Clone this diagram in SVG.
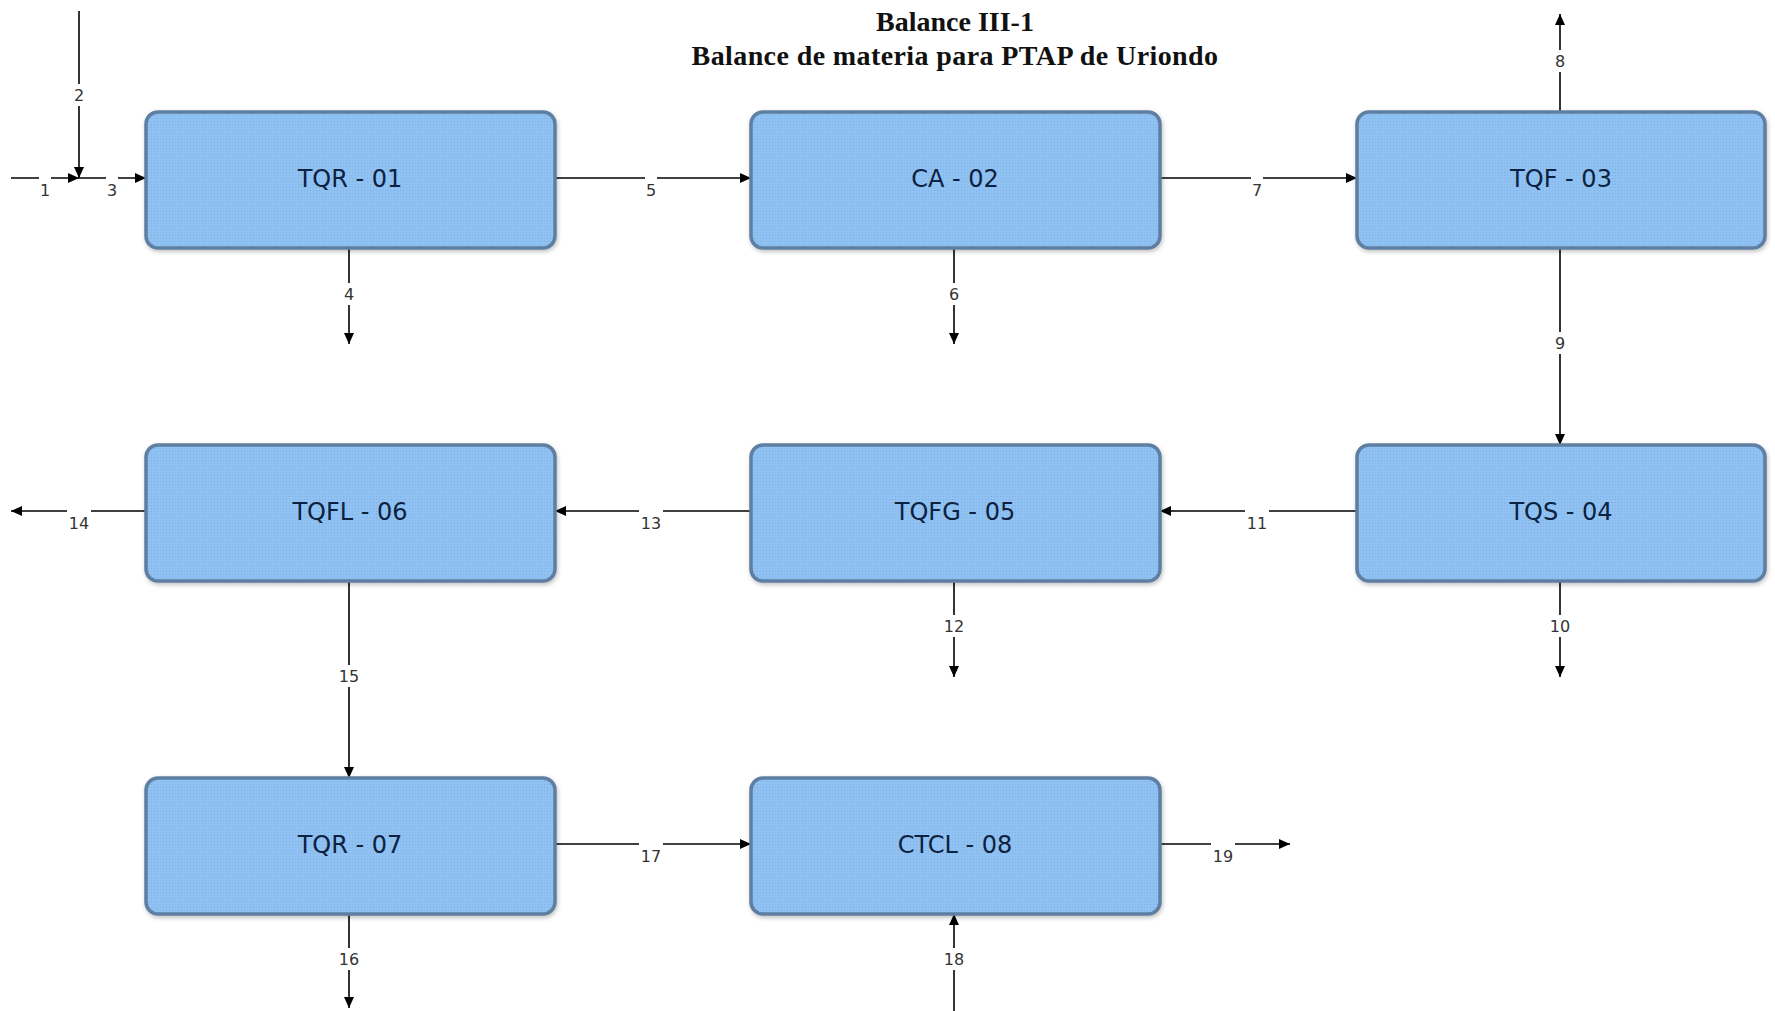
<svg xmlns="http://www.w3.org/2000/svg" width="1775" height="1011" viewBox="0 0 1775 1011">
<defs>
<pattern id="dots" width="3" height="3" patternUnits="userSpaceOnUse">
<rect width="3" height="3" fill="#8fc1f2"/>
<rect x="1" y="1" width="1" height="1" fill="#7fb0e2"/>
</pattern>
<marker id="arr" markerWidth="12" markerHeight="10" refX="11" refY="5" orient="auto" markerUnits="userSpaceOnUse">
<path d="M0,0 L11,5 L0,10 z" fill="#000"/>
</marker>
<filter id="sh" x="-5%" y="-10%" width="110%" height="125%">
<feDropShadow dx="1" dy="2" stdDeviation="2" flood-color="#000" flood-opacity="0.25"/>
</filter>
</defs>
<style>
.box{fill:url(#dots);stroke:#5f7fa2;stroke-width:3.5;filter:url(#sh)}
.bl{font-family:"DejaVu Sans",Verdana,sans-serif;font-size:24px;fill:#0c2240;text-anchor:middle}
.ln{stroke:#000;stroke-width:1.6;fill:none}
.ar{marker-end:url(#arr)}
.lb{font-family:"DejaVu Sans",Verdana,sans-serif;font-size:16px;fill:#333;text-anchor:middle}
.bg{fill:#fff}
.tt{font-family:"Liberation Serif","Times New Roman",serif;font-weight:bold;font-size:28px;fill:#111;text-anchor:middle}
</style>
<rect width="1775" height="1011" fill="#fff"/>
<g id="title">
<text class="tt" x="955" y="31">Balance III-1</text>
<text class="tt" x="955" y="65" letter-spacing="0.4">Balance de materia para PTAP de Uriondo</text>
</g>
<g id="connectors">
<line class="ln ar" x1="11" y1="178" x2="79" y2="178"/>
<line class="ln ar" x1="79" y1="11" x2="79" y2="178"/>
<line class="ln ar" x1="79" y1="178" x2="146" y2="178"/>
<line class="ln ar" x1="349" y1="248" x2="349" y2="344"/>
<line class="ln ar" x1="555" y1="178" x2="751" y2="178"/>
<line class="ln ar" x1="954" y1="248" x2="954" y2="344"/>
<line class="ln ar" x1="1160" y1="178" x2="1357" y2="178"/>
<line class="ln ar" x1="1560" y1="112" x2="1560" y2="14"/>
<line class="ln ar" x1="1560" y1="248" x2="1560" y2="445"/>
<line class="ln ar" x1="1560" y1="581" x2="1560" y2="677"/>
<line class="ln ar" x1="1357" y1="511" x2="1160" y2="511"/>
<line class="ln ar" x1="954" y1="581" x2="954" y2="677"/>
<line class="ln ar" x1="751" y1="511" x2="555" y2="511"/>
<line class="ln ar" x1="146" y1="511" x2="11" y2="511"/>
<line class="ln ar" x1="349" y1="581" x2="349" y2="778"/>
<line class="ln ar" x1="349" y1="914" x2="349" y2="1008"/>
<line class="ln ar" x1="555" y1="844" x2="751" y2="844"/>
<line class="ln ar" x1="954" y1="1011" x2="954" y2="914"/>
<line class="ln ar" x1="1160" y1="844" x2="1290" y2="844"/>
</g>
<g id="stream-labels">
<rect class="bg" x="39" y="176" width="12" height="24"/><text class="lb" x="45" y="196">1</text>
<rect class="bg" x="73" y="84" width="12" height="22"/><text class="lb" x="79" y="101">2</text>
<rect class="bg" x="106" y="176" width="12" height="24"/><text class="lb" x="112" y="196">3</text>
<rect class="bg" x="343" y="283" width="12" height="22"/><text class="lb" x="349" y="300">4</text>
<rect class="bg" x="645" y="176" width="12" height="24"/><text class="lb" x="651" y="196">5</text>
<rect class="bg" x="948" y="283" width="12" height="22"/><text class="lb" x="954" y="300">6</text>
<rect class="bg" x="1251" y="176" width="12" height="24"/><text class="lb" x="1257" y="196">7</text>
<rect class="bg" x="1554" y="50" width="12" height="22"/><text class="lb" x="1560" y="67">8</text>
<rect class="bg" x="1554" y="332" width="12" height="22"/><text class="lb" x="1560" y="349">9</text>
<rect class="bg" x="1548" y="615" width="24" height="22"/><text class="lb" x="1560" y="632">10</text>
<rect class="bg" x="1245" y="509" width="24" height="24"/><text class="lb" x="1257" y="529">11</text>
<rect class="bg" x="942" y="615" width="24" height="22"/><text class="lb" x="954" y="632">12</text>
<rect class="bg" x="639" y="509" width="24" height="24"/><text class="lb" x="651" y="529">13</text>
<rect class="bg" x="67" y="509" width="24" height="24"/><text class="lb" x="79" y="529">14</text>
<rect class="bg" x="337" y="665" width="24" height="22"/><text class="lb" x="349" y="682">15</text>
<rect class="bg" x="337" y="948" width="24" height="22"/><text class="lb" x="349" y="965">16</text>
<rect class="bg" x="639" y="842" width="24" height="24"/><text class="lb" x="651" y="862">17</text>
<rect class="bg" x="942" y="948" width="24" height="22"/><text class="lb" x="954" y="965">18</text>
<rect class="bg" x="1211" y="842" width="24" height="24"/><text class="lb" x="1223" y="862">19</text>
</g>
<g id="TQR-01"><rect class="box" x="146" y="112" width="409" height="136" rx="12"/><text class="bl" x="350" y="187">TQR - 01</text></g>
<g id="CA-02"><rect class="box" x="751" y="112" width="409" height="136" rx="12"/><text class="bl" x="955" y="187">CA - 02</text></g>
<g id="TQF-03"><rect class="box" x="1357" y="112" width="408" height="136" rx="12"/><text class="bl" x="1561" y="187">TQF - 03</text></g>
<g id="TQS-04"><rect class="box" x="1357" y="445" width="408" height="136" rx="12"/><text class="bl" x="1561" y="520">TQS - 04</text></g>
<g id="TQFG-05"><rect class="box" x="751" y="445" width="409" height="136" rx="12"/><text class="bl" x="955" y="520">TQFG - 05</text></g>
<g id="TQFL-06"><rect class="box" x="146" y="445" width="409" height="136" rx="12"/><text class="bl" x="350" y="520">TQFL - 06</text></g>
<g id="TQR-07"><rect class="box" x="146" y="778" width="409" height="136" rx="12"/><text class="bl" x="350" y="853">TQR - 07</text></g>
<g id="CTCL-08"><rect class="box" x="751" y="778" width="409" height="136" rx="12"/><text class="bl" x="955" y="853">CTCL - 08</text></g>
</svg>
